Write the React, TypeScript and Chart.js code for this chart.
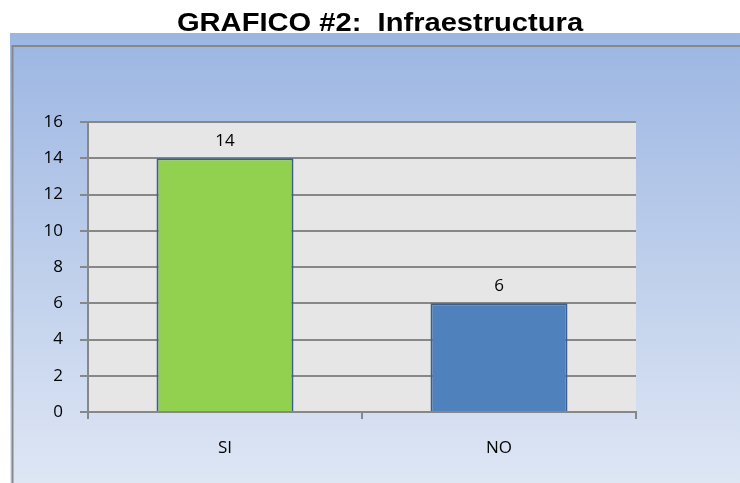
import React, { useEffect, useRef } from "react";
import { Chart, registerables } from "chart.js";

Chart.register(...registerables);

const title = "GRAFICO #2:  Infraestructura";
const categories = ["SI", "NO"];
const values = [14, 6];
const barColors = ["#92d050", "#4f81bd"];
const yTicksMin = 0;
const yTicksMax = 16;
const yStep = 2;

const GRID = "#878787";
const LABEL_FONT = { family: "'Open Sans', 'Noto Sans', sans-serif", size: 17 };

const backgroundPlugin = {
  id: "bgPlugin",
  beforeDraw(chart: any) {
    const { ctx, chartArea, width, height } = chart;
    ctx.save();
    ctx.fillStyle = "#ffffff";
    ctx.fillRect(0, 0, width, height);
    const g = ctx.createLinearGradient(0, 33, 0, height);
    g.addColorStop(0, "#9cb6e2");
    g.addColorStop(1, "#dee6f4");
    ctx.fillStyle = g;
    ctx.fillRect(10, 33, width - 10, height - 33);
    ctx.strokeStyle = GRID;
    ctx.lineWidth = 2;
    ctx.beginPath();
    ctx.moveTo(12.5, height);
    ctx.lineTo(12.5, 46);
    ctx.lineTo(width, 46);
    ctx.stroke();
    ctx.fillStyle = "#e6e6e6";
    ctx.fillRect(chartArea.left, chartArea.top, chartArea.right - chartArea.left, chartArea.bottom - chartArea.top);
    // title
    ctx.fillStyle = "#000000";
    ctx.font = "bold 26px 'Liberation Sans', Arial, sans-serif";
    ctx.textAlign = "center";
    ctx.textBaseline = "alphabetic";
    ctx.translate(380, 31);
    ctx.scale(1.12, 1);
    ctx.fillText(title, 0, 0);
    ctx.restore();
  },
};

const valueLabelPlugin = {
  id: "valueLabels",
  afterDatasetsDraw(chart: any) {
    const { ctx } = chart;
    const meta = chart.getDatasetMeta(0);
    ctx.save();
    ctx.fillStyle = "#000000";
    ctx.font = `${LABEL_FONT.size}px ${LABEL_FONT.family}`;
    ctx.textAlign = "center";
    ctx.textBaseline = "alphabetic";
    meta.data.forEach((bar: any, i: number) => {
      ctx.fillText(String(values[i]), bar.x, bar.y - 12);
    });
    ctx.restore();
  },
};

export default function App() {
  const ref = useRef<HTMLCanvasElement | null>(null);
  useEffect(() => {
    document.body.style.margin = "0";
    if (!ref.current) return;
    const chart = new Chart(ref.current, {
      type: "bar",
      data: {
        labels: categories,
        datasets: [
          {
            data: values,
            backgroundColor: barColors,
            borderColor: "#3a5f8e",
            borderWidth: 2,
            barPercentage: 0.5,
            categoryPercentage: 1,
          },
        ],
      },
      options: {
        animation: false,
        responsive: false,
        devicePixelRatio: 1,
        layout: { padding: { top: 122, right: 104, bottom: 0, left: 0 } },
        plugins: {
          legend: { display: false },
          title: { display: false },
          tooltip: { enabled: false },
        },
        scales: {
          x: {
            offset: true,
            grid: {
              offset: true,
              drawOnChartArea: false,
              drawTicks: true,
              tickLength: 7,
              color: GRID,
              lineWidth: 2,
            },
            border: { color: GRID, width: 2 },
            ticks: { color: "#000000", font: LABEL_FONT, padding: 19 },
            afterFit(scale: any) {
              scale.height = 71;
            },
          },
          y: {
            min: yTicksMin,
            max: yTicksMax,
            ticks: { stepSize: yStep, color: "#000000", font: LABEL_FONT, padding: 17 },
            grid: { color: GRID, lineWidth: 2, tickLength: 8 },
            border: { color: GRID, width: 2 },
            afterFit(scale: any) {
              scale.width = 88;
            },
          },
        },
      },
      plugins: [backgroundPlugin, valueLabelPlugin],
    });
    return () => chart.destroy();
  }, []);
  return <canvas ref={ref} width={740} height={483} style={{ display: "block" }} />;
}
